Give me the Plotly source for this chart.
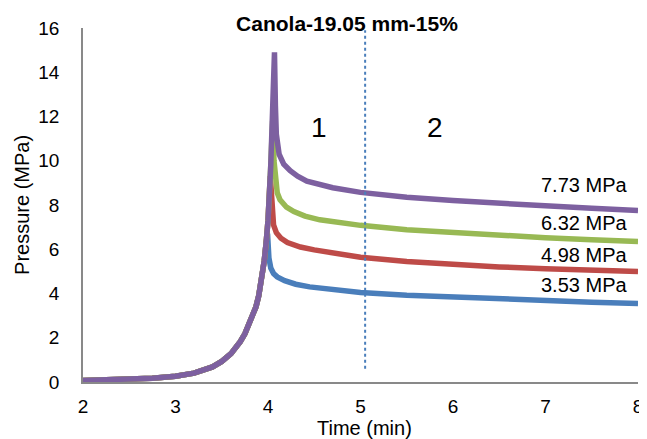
import plotly.graph_objects as go

# ---------------- data ----------------
title_text = "Canola-19.05 mm-15%"
x_label = "Time (min)"
y_label = "Pressure (MPa)"

rise_x = [2.0, 2.25, 2.5, 2.75, 3.0, 3.2, 3.4, 3.5, 3.6, 3.65, 3.7, 3.75, 3.8, 3.84, 3.87, 3.9, 3.93, 3.96, 3.98]
rise_y = [0.07, 0.09, 0.12, 0.17, 0.26, 0.4, 0.68, 0.93, 1.28, 1.52, 1.82, 2.18, 2.63, 3.05, 3.4, 3.9, 4.6, 5.5, 6.3]

blue_x = rise_x + [3.995, 4.01, 4.03, 4.06, 4.1, 4.18, 4.3, 4.45, 4.7, 5.0, 5.5, 6.0, 6.5, 7.0, 7.5, 8.0]
blue_y = rise_y + [6.7, 5.6, 5.15, 4.9, 4.75, 4.58, 4.42, 4.3, 4.17, 4.05, 3.92, 3.83, 3.75, 3.68, 3.61, 3.55]

red_x = rise_x + [4.0, 4.025, 4.04, 4.06, 4.09, 4.14, 4.21, 4.35, 4.5, 4.75, 5.0, 5.5, 6.0, 6.5, 7.0, 7.5, 8.0]
red_y = rise_y + [7.3, 9.3, 7.8, 7.1, 6.75, 6.5, 6.3, 6.1, 5.97, 5.8, 5.64, 5.45, 5.3, 5.2, 5.12, 5.05, 4.99]

green_x = rise_x + [4.0, 4.03, 4.05, 4.065, 4.08, 4.1, 4.13, 4.2, 4.28, 4.4, 4.56, 4.75, 5.0, 5.5, 6.0,
                    6.5, 7.0, 7.5, 8.0]
green_y = rise_y + [7.3, 9.8, 11.8, 10.0, 9.0, 8.55, 8.24, 7.9, 7.7, 7.5, 7.33, 7.2, 7.08, 6.88, 6.74,
                    6.62, 6.52, 6.43, 6.35]

purple_x = rise_x + [4.0, 4.03, 4.05, 4.07, 4.08, 4.09, 4.12, 4.17, 4.24, 4.32, 4.42, 4.55, 4.7, 5.0,
                     5.5, 6.0, 6.5, 7.0, 7.5, 8.0]
purple_y = rise_y + [7.3, 9.8, 12.2, 14.9, 12.5, 11.2, 10.3, 9.85, 9.55, 9.3, 9.08, 8.92, 8.78, 8.57,
                     8.35, 8.2, 8.07, 7.96, 7.85, 7.75]

end_labels = ["7.73 MPa", "6.32 MPa", "4.98 MPa", "3.53 MPa"]
end_label_y = [8.9, 7.2, 5.75, 4.4]
end_label_x = 7.9

stage_labels = ["1", "2"]
stage_x = [4.55, 5.81]
stage_y = [11.5, 11.5]

divider_x = 5.05
divider_y = [0.6, 15.9]

x_ticks = [2, 3, 4, 5, 6, 7, 8]
y_ticks = [0, 2, 4, 6, 8, 10, 12, 14, 16]

FONT = "Liberation Sans, Arial, sans-serif"

fig = go.Figure()
series = [
    (blue_x, blue_y, "#4A7EBB"),
    (red_x, red_y, "#BE4B48"),
    (green_x, green_y, "#98B954"),
    (purple_x, purple_y, "#7D60A0"),
]
for xs, ys, col in series:
    fig.add_trace(go.Scatter(x=xs, y=ys, mode="lines",
                             line=dict(color=col, width=5.5), showlegend=False,
                             hoverinfo="skip"))

fig.add_trace(go.Scatter(x=[divider_x, divider_x], y=divider_y, mode="lines",
                         line=dict(color="#4A7EBB", width=2, dash="dot"),
                         showlegend=False, hoverinfo="skip"))

for t, yy in zip(end_labels, end_label_y):
    fig.add_annotation(x=end_label_x, y=yy, text=t, showarrow=False,
                       xanchor="right", yanchor="middle",
                       font=dict(family=FONT, size=20, color="#000"))
for t, xx, yy in zip(stage_labels, stage_x, stage_y):
    fig.add_annotation(x=xx, y=yy, text=t, showarrow=False,
                       xanchor="center", yanchor="middle",
                       font=dict(family=FONT, size=28, color="#000"))

# axis titles
fig.add_annotation(xref="paper", yref="paper", x=-0.11, y=0.5, text=y_label,
                   textangle=-90, showarrow=False, xanchor="center", yanchor="middle",
                   font=dict(family=FONT, size=20, color="#000"))
fig.add_annotation(xref="paper", yref="paper", x=0.508, y=-0.13, text=x_label,
                   showarrow=False, xanchor="center", yanchor="middle",
                   font=dict(family=FONT, size=20, color="#000"))

fig.update_layout(
    width=647, height=431,
    margin=dict(l=75, r=17, t=20, b=57),
    paper_bgcolor="white", plot_bgcolor="white",
    font=dict(family=FONT, size=19, color="#000"),
    title=dict(text="<b>" + title_text + "</b>", xref="container", yref="container",
               x=339 / 647, y=1 - 16 / 431, xanchor="center", yanchor="middle",
               font=dict(family=FONT, size=21, color="#000")),
)
fig.update_xaxes(range=[2, 8], tickvals=x_ticks, showgrid=False, zeroline=False,
                 showline=True, linecolor="#898989", linewidth=1.5, ticks="",
                 ticklabelstandoff=6, automargin=False, ticklabeloverflow="allow",
                 tickfont=dict(family=FONT, size=19, color="#000"))
fig.update_yaxes(range=[0, 16], tickvals=y_ticks, showgrid=False, zeroline=False,
                 showline=True, linecolor="#898989", linewidth=1.5, ticks="",
                 ticklabelstandoff=18, automargin=False,
                 tickfont=dict(family=FONT, size=19, color="#000"))

fig.write_html("out.html")
